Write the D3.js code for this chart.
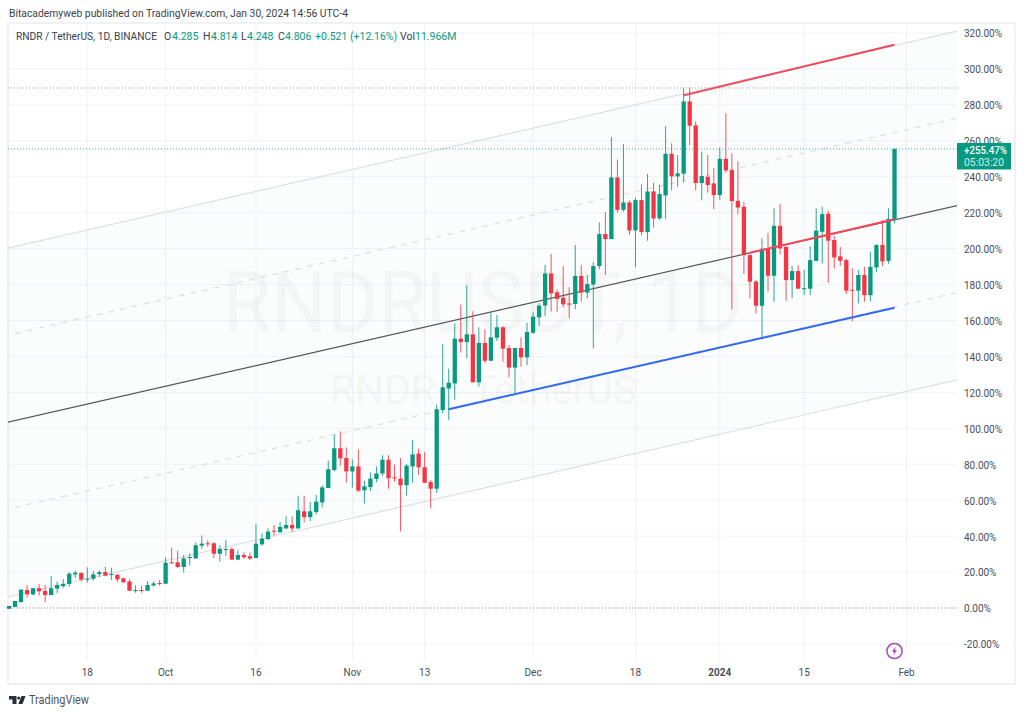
<!DOCTYPE html>
<html>
<head>
<meta charset="utf-8">
<title>RNDR / TetherUS, 1D</title>
<script src="https://cdnjs.cloudflare.com/ajax/libs/d3/7.8.5/d3.min.js"></script>
<style>
    body { margin: 0; background: #fff; }
    text { font-family: Roboto, "Noto Sans", sans-serif; }
</style>
</head>
<body>
<div id="chart-area"></div>
<script>

// daily candles, one per day from firstDay, values in % from the base line
const firstDay = Date.UTC(2023, 8, 5);

const opens = [-0.4,0.6,3.3,10.0,7.6,11.0,9.5,7.2,10.8,12.2,13.4,18.7,19.5,15.9,16.3,18.9,20.0,18.4,18.5,16.5,
    14.8,9.6,10.0,9.6,12.6,13.9,13.5,25.4,25.4,22.8,28.0,27.6,34.7,36.0,36.0,30.2,32.5,32.8,26.9,29.5,
    28.8,27.8,35.4,38.4,43.0,42.1,44.3,46.2,44.3,53.8,50.6,53.4,58.8,66.8,76.8,88.9,83.5,76.0,78.8,65.5,
    67.3,71.8,74.9,82.5,72.7,72.0,68.3,78.8,85.9,78.3,70.1,66.4,110.2,122.2,125.0,149.9,148.0,152.3,125.6,147.5,
    137.6,150.4,156.2,144.7,133.8,144.7,139.5,153.2,161.8,168.3,186.2,175.7,172.7,169.5,169.2,184.8,175.5,180.0,190.3,208.1,
    205.3,239.6,221.6,225.7,210.1,227.0,209.2,231.8,216.8,229.6,252.8,240.2,241.7,281.9,268.6,236.5,240.0,236.3,229.8,250.0,
    243.7,226.6,223.3,196.4,181.7,168.2,200.1,184.9,212.7,200.9,182.5,187.5,177.7,177.7,193.2,209.4,219.4,204.8,195.7,193.6,
    177.1,176.6,185.3,174.1,189.5,202.0,193.2,216.2];

const highs = [1.1,3.9,10.6,12.8,11.0,13.4,12.8,17.8,14.8,16.1,20.0,20.8,19.8,22.6,20.6,20.8,23.0,22.4,18.9,16.9,
    15.9,12.6,12.4,15.0,14.8,15.6,28.2,33.6,31.9,29.5,30.4,36.5,40.4,37.8,36.7,35.0,37.8,33.8,32.1,31.0,
    31.0,46.7,41.5,44.3,46.2,47.8,51.0,51.0,62.5,62.5,59.0,62.9,68.4,82.0,96.6,98.3,89.4,82.7,88.3,70.9,
    75.5,78.8,85.0,85.0,79.8,83.5,80.1,93.5,88.7,86.8,71.2,113.2,146.9,133.2,158.4,168.8,179.6,165.1,156.2,155.1,
    164.5,163.1,156.9,146.4,144.7,150.6,158.8,164.5,169.6,190.9,197.0,177.3,190.3,178.5,202.0,190.9,185.3,192.5,214.6,220.3,
    262.1,249.6,258.2,226.8,228.3,235.7,241.5,236.7,235.4,268.2,258.6,252.1,289.7,289.7,270.8,253.9,252.2,244.8,256.3,275.3,
    253.0,248.5,225.9,197.3,182.5,205.7,208.8,222.4,224.8,201.4,190.3,190.8,188.1,201.4,222.4,223.3,221.1,207.0,200.9,194.5,
    189.0,188.1,189.9,198.3,202.5,215.9,222.4,255.8];

const lows = [-0.4,0.6,3.0,5.9,6.9,6.9,3.1,7.2,8.2,11.1,11.9,16.7,14.7,14.1,15.2,17.2,17.6,15.6,14.5,14.0,
    9.6,8.5,8.5,9.6,11.9,12.4,13.5,24.7,22.4,19.7,23.6,27.3,33.0,34.1,27.8,25.8,28.9,26.9,26.9,27.3,
    26.7,27.8,34.7,37.8,40.3,42.1,43.8,42.5,44.0,47.7,48.4,52.1,56.0,66.6,76.0,79.2,69.7,67.0,64.7,58.1,
    65.1,69.9,73.5,66.4,70.3,42.7,62.5,69.7,74.0,69.4,55.5,64.0,108.3,104.6,115.8,142.1,138.9,125.6,123.2,136.2,
    137.6,148.6,137.1,128.4,119.5,134.3,135.2,152.5,156.9,162.5,164.9,164.9,167.3,161.2,166.2,170.5,172.3,144.5,188.6,185.3,
    205.3,220.0,220.5,207.7,189.6,207.4,204.4,211.8,215.9,216.4,232.4,234.4,236.8,257.6,232.4,226.8,231.1,222.0,227.2,242.2,
    166.2,219.2,185.8,172.3,163.9,149.5,176.0,170.4,196.8,171.0,172.3,177.5,174.1,174.1,193.2,191.8,181.0,189.0,190.5,174.7,
    159.6,169.5,170.4,170.6,186.8,190.3,191.6,214.0];

const closes = [1.1,3.9,10.2,7.6,11.0,9.3,7.2,11.0,12.8,13.4,19.1,19.7,15.8,16.3,18.7,20.0,18.0,18.9,15.9,14.3,
    9.6,10.0,9.6,12.8,13.7,13.5,25.2,24.9,22.8,27.6,28.4,34.9,35.8,35.6,30.2,32.8,32.8,26.9,29.5,28.2,
    27.5,35.8,38.6,42.5,42.7,45.1,46.2,44.3,54.4,50.6,53.8,59.2,67.1,77.2,88.9,83.3,76.0,78.8,65.3,67.7,
    72.0,74.9,82.5,72.2,72.2,68.3,79.2,85.5,78.3,69.7,66.4,110.6,122.8,125.4,149.9,148.0,152.3,125.6,147.5,137.6,
    150.6,156.2,144.3,133.8,144.7,139.5,153.6,162.1,168.3,186.2,175.1,172.0,169.0,168.8,184.8,175.5,180.3,190.3,208.1,205.3,
    239.6,221.6,225.7,210.1,227.0,209.2,231.8,216.8,230.4,252.8,240.2,241.9,281.9,268.4,236.5,240.4,235.4,229.8,250.0,243.5,
    226.5,222.9,196.4,181.6,168.2,199.9,184.9,212.7,200.1,182.5,187.5,177.7,178.0,193.6,210.0,219.2,204.4,195.1,193.2,176.6,
    176.6,185.3,174.1,189.9,202.0,192.9,216.6,255.47];

// axis ticks
const timeTicks = [Date.UTC(2023,8,18), Date.UTC(2023,9,1), Date.UTC(2023,9,16), Date.UTC(2023,10,1), Date.UTC(2023,10,13),
    Date.UTC(2023,11,1), Date.UTC(2023,11,18), Date.UTC(2024,0,1), Date.UTC(2024,0,15), Date.UTC(2024,1,1)];
const timeLabels = ["18", "Oct", "16", "Nov", "13", "Dec", "18", "2024", "15", "Feb"];
const pctTicks = [-20,0,20,40,60,80,100,120,140,160,180,200,220,240,260,280,300,320];

// regression channel, value at channelDays[0] and channelDays[1]
const channelDays = [Date.UTC(2023,8,4), Date.UTC(2024,1,10)];
const channelUpper = [199.6, 321.5];
const channelUpperMid = [151.2, 273.1];
const channelMid = [102.8, 224.4];
const channelLowerMid = [54.4, 176.0];
const channelLower = [5.6, 127.4];

// hand drawn trend lines
const trendDays = [Date.UTC(2023,11,26), Date.UTC(2024,0,6), Date.UTC(2023,10,17), Date.UTC(2024,0,30)];
const redTop = [285.3, 313.5];
const redMid = [197.7, 216.3];
const blueLow = [110.6, 167.1];

const highLevel = 289.4;
const lastPct = 255.47;

const legendParts = [
    ["RNDR / TetherUS, 1D, BINANCE", 16, "#3a3f4c", 141],
    ["O", 164, "#3a3f4c"], ["4.285", 172, "#089981"],
    ["H", 203, "#3a3f4c"], ["4.814", 211, "#089981"],
    ["L", 241, "#3a3f4c"], ["4.248", 247, "#089981"],
    ["C", 278, "#3a3f4c"], ["4.806", 285, "#089981"],
    ["+0.521 (+12.16%)", 315, "#089981"],
    ["Vol", 400, "#3a3f4c"], ["11.966M", 415, "#089981"]
];


class CandleChart {

    constructor(parentElement) {
        this.parentElement = parentElement;
        this.displayData = opens.map((o, i) => ({
            day: d3.utcDay.offset(new Date(firstDay), i),
            o: o, h: highs[i], l: lows[i], c: closes[i]
        }));

        this.initVis();
    }

    initVis() {
        let vis = this;

        vis.width = 1024;
        vis.height = 716;
        vis.plot = {left: 8, right: 957, top: 23, bottom: 661};

        vis.svg = d3.select("#" + vis.parentElement).append("svg")
            .attr("width", vis.width)
            .attr("height", vis.height)
            .style("display", "block");

        vis.svg.append("clipPath")
            .attr("id", "plot-clip")
            .append("rect")
            .attr("x", vis.plot.left)
            .attr("y", vis.plot.top)
            .attr("width", vis.plot.right - vis.plot.left)
            .attr("height", vis.plot.bottom - vis.plot.top);

        vis.xScale = d3.scaleUtc()
            .domain([new Date(firstDay), new Date(Date.UTC(2024, 0, 30))])
            .range([9, 894.5]);

        vis.yScale = d3.scaleLinear()
            .domain([0, 320])
            .range([608, 33]);

        vis.drawFrame();
        vis.drawChannel();
        vis.drawCandles();
        vis.drawTrendLines();
        vis.drawAxes();
        vis.drawTexts();
    }

    drawFrame() {
        let vis = this;

        vis.svg.append("rect")
            .attr("x", 8)
            .attr("y", 23)
            .attr("width", 1007)
            .attr("height", 661)
            .attr("fill", "#fff")
            .attr("stroke", "#eceef1")
            .attr("stroke-width", 1.5);

        vis.svg.append("g").selectAll("line")
            .data(timeTicks)
            .join("line")
            .attr("x1", d => vis.xScale(d))
            .attr("x2", d => vis.xScale(d))
            .attr("y1", vis.plot.top)
            .attr("y2", vis.plot.bottom)
            .attr("stroke", "#f0f3fa");

        vis.svg.append("g").selectAll("line")
            .data(pctTicks)
            .join("line")
            .attr("x1", vis.plot.left)
            .attr("x2", vis.plot.right)
            .attr("y1", d => vis.yScale(d))
            .attr("y2", d => vis.yScale(d))
            .attr("stroke", "#f0f3fa");

        // watermark
        vis.svg.append("text")
            .text("RNDRUSDT, 1D")
            .attr("x", 223)
            .attr("y", 332)
            .attr("font-size", 85)
            .attr("textLength", 520)
            .attr("lengthAdjust", "spacingAndGlyphs")
            .attr("fill", "#9598a1")
            .attr("fill-opacity", 0.07);

        vis.svg.append("text")
            .text("RNDR / TetherUS")
            .attr("x", 330)
            .attr("y", 404)
            .attr("font-size", 40)
            .attr("textLength", 307)
            .attr("lengthAdjust", "spacingAndGlyphs")
            .attr("fill", "#9598a1")
            .attr("fill-opacity", 0.07);
    }

    drawChannel() {
        let vis = this;

        vis.channel = vis.svg.append("g").attr("clip-path", "url(#plot-clip)");

        let area = d3.area()
            .x((d, i) => vis.xScale(channelDays[i]))
            .y0((d, i) => vis.yScale(channelLower[i]))
            .y1(d => vis.yScale(d));

        vis.channel.append("path")
            .attr("d", area(channelUpper))
            .attr("fill", "#2e9c7f")
            .attr("fill-opacity", 0.02);

        let line = d3.line()
            .x((d, i) => vis.xScale(channelDays[i]))
            .y(d => vis.yScale(d));

        [channelUpper, channelLower].forEach(vals => {
            vis.channel.append("path")
                .attr("d", line(vals))
                .attr("fill", "none")
                .attr("stroke", "#dddfe3")
                .attr("stroke-width", 1.2);
        });

        [channelUpperMid, channelLowerMid].forEach(vals => {
            vis.channel.append("path")
                .attr("d", line(vals))
                .attr("fill", "none")
                .attr("stroke", "#dddfe3")
                .attr("stroke-width", 1.2)
                .attr("stroke-dasharray", "6,6");
        });

        vis.channel.append("path")
            .attr("d", line(channelMid))
            .attr("fill", "none")
            .attr("stroke", "#555")
            .attr("stroke-width", 1.2);

        // dotted levels
        [[highLevel, "#a3a6af", 1], [0, "#9598a1", 1], [lastPct, "#089981", 0.75]].forEach(lv => {
            vis.channel.append("line")
                .attr("x1", vis.plot.left)
                .attr("x2", vis.plot.right)
                .attr("y1", vis.yScale(lv[0]))
                .attr("y2", vis.yScale(lv[0]))
                .attr("stroke", lv[1])
                .attr("stroke-opacity", lv[2])
                .attr("stroke-dasharray", "1,2");
        });
    }

    drawCandles() {
        let vis = this;
        let green = "#089981", red = "#f23645";
        let bodyWidth = 4.3;

        let candles = vis.svg.append("g").attr("class", "candles")
            .selectAll("g")
            .data(vis.displayData)
            .join("g");

        candles.append("line")
            .attr("x1", d => vis.xScale(d.day))
            .attr("x2", d => vis.xScale(d.day))
            .attr("y1", d => vis.yScale(d.h))
            .attr("y2", d => vis.yScale(d.l))
            .attr("stroke", d => d.c >= d.o ? green : red)
            .attr("stroke-opacity", 0.85)
            .attr("stroke-width", 1);

        candles.append("rect")
            .attr("x", d => vis.xScale(d.day) - bodyWidth / 2)
            .attr("width", bodyWidth)
            .attr("y", d => vis.yScale(Math.max(d.o, d.c)))
            .attr("height", d => Math.max(1, Math.abs(vis.yScale(d.o) - vis.yScale(d.c))))
            .attr("fill", d => d.c >= d.o ? green : red);
    }

    drawTrendLines() {
        let vis = this;
        let line = d3.line()
            .x(d => vis.xScale(d[0]))
            .y(d => vis.yScale(d[1]));

        let segments = [
            [[[trendDays[0], redTop[0]], [trendDays[3], redTop[1]]], "#f44858"],
            [[[trendDays[1], redMid[0]], [trendDays[3], redMid[1]]], "#f44858"],
            [[[trendDays[2], blueLow[0]], [trendDays[3], blueLow[1]]], "#3068f5"]
        ];

        vis.svg.append("g").selectAll("path")
            .data(segments)
            .join("path")
            .attr("d", d => line(d[0]))
            .attr("fill", "none")
            .attr("stroke", d => d[1])
            .attr("stroke-width", 2);
    }

    drawAxes() {
        let vis = this;

        let xAxis = d3.axisBottom(vis.xScale)
            .tickValues(timeTicks)
            .tickSize(0)
            .tickFormat((d, i) => timeLabels[i]);

        let yAxis = d3.axisRight(vis.yScale)
            .tickValues(pctTicks)
            .tickSize(0)
            .tickPadding(7)
            .tickFormat(d => d.toFixed(2) + "%");

        vis.xAxisGroup = vis.svg.append("g")
            .attr("class", "axis x-axis")
            .attr("transform", `translate(-0.5,${vis.plot.bottom + 5})`)
            .call(xAxis);

        vis.yAxisGroup = vis.svg.append("g")
            .attr("class", "axis y-axis")
            .attr("transform", `translate(${vis.plot.right},0.7)`)
            .call(yAxis);

        vis.svg.selectAll(".axis .domain").remove();
        vis.svg.selectAll(".axis text")
            .attr("font-size", 10)
            .attr("font-family", "Roboto, sans-serif")
            .attr("fill", "#4a4e59");
        vis.xAxisGroup.selectAll("text")
            .filter((d, i) => timeLabels[i] === "2024")
            .attr("font-weight", 700);

        // last value tag
        let tagY = vis.yScale(lastPct);
        vis.svg.append("rect")
            .attr("x", vis.plot.right)
            .attr("y", tagY - 6)
            .attr("width", 54)
            .attr("height", 26.5)
            .attr("fill", "#089981");
        vis.svg.append("text")
            .text("+255.47%")
            .attr("x", 964)
            .attr("y", tagY + 5.5)
            .attr("font-size", 10)
            .attr("font-weight", 500)
            .attr("textLength", 43)
            .attr("lengthAdjust", "spacingAndGlyphs")
            .attr("fill", "#fff");
        vis.svg.append("text")
            .text("05:03:20")
            .attr("x", 964)
            .attr("y", tagY + 17.5)
            .attr("font-size", 10)
            .attr("textLength", 40)
            .attr("lengthAdjust", "spacingAndGlyphs")
            .attr("fill", "#d5efe9");

        // lightning marker under the last candle
        let marker = vis.svg.append("g")
            .attr("transform", `translate(${vis.xScale(new Date(Date.UTC(2024, 0, 30)))},651)`);
        marker.append("circle")
            .attr("r", 7.6)
            .attr("fill", "#fff")
            .attr("stroke", "#ab47bc")
            .attr("stroke-width", 1.5);
        marker.append("path")
            .attr("d", "M1.2,-4.4 L-2.6,0.8 L-0.4,0.8 L-1.2,4.4 L2.6,-0.8 L0.4,-0.8 Z")
            .attr("fill", "#ab47bc");
    }

    drawTexts() {
        let vis = this;

        vis.svg.append("text")
            .text("Bitacademyweb published on TradingView.com, Jan 30, 2024 14:56 UTC-4")
            .attr("x", 9)
            .attr("y", 17)
            .attr("font-size", 11)
            .attr("textLength", 339)
            .attr("lengthAdjust", "spacingAndGlyphs")
            .attr("fill", "#3a3f4c");

        vis.svg.append("g").selectAll("text")
            .data(legendParts)
            .join("text")
            .text(d => d[0])
            .attr("x", d => d[1])
            .attr("y", 40)
            .attr("font-size", 10.5)
            .attr("textLength", d => d[3] || null)
            .attr("lengthAdjust", d => d[3] ? "spacingAndGlyphs" : null)
            .attr("fill", d => d[2]);

        // logo
        let logo = vis.svg.append("g").attr("fill", "#2a2e39");
        logo.append("path").attr("d", "M9,696 H16.5 V704 H12.5 V699.5 H9 Z");
        logo.append("circle").attr("cx", 18.7).attr("cy", 698).attr("r", 1.6);
        logo.append("path").attr("d", "M21.5,696 H25.5 L22.5,704 H18.3 Z");

        vis.svg.append("text")
            .text("TradingView")
            .attr("x", 29)
            .attr("y", 704)
            .attr("font-size", 12)
            .attr("textLength", 60)
            .attr("lengthAdjust", "spacingAndGlyphs")
            .attr("fill", "#50535e");
    }
}

let candleChart = new CandleChart("chart-area");

</script>
</body>
</html>
